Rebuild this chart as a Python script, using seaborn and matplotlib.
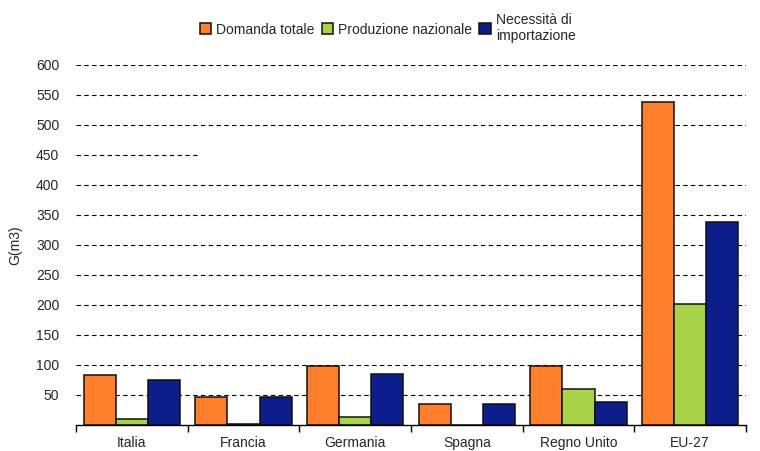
import pandas as pd
import matplotlib.pyplot as plt
import seaborn as sns

paesi = ["Italia", "Francia", "Germania", "Spagna", "Regno Unito", "EU-27"]
domanda_totale = [84, 47, 98, 35, 99, 538]
produzione_nazionale = [9.5, 1.5, 13, 0.5, 60.5, 202]
necessita_importazione = [75.5, 46, 85.5, 35, 39, 338]

serie = ["Domanda totale", "Produzione nazionale", "Necessità di\nimportazione"]
colori = ["#FF7F2A", "#A8D346", "#0C1E8C"]
tick_y = list(range(50, 601, 50))

df = pd.DataFrame({
    "Paese": paesi * 3,
    "Serie": [serie[0]] * 6 + [serie[1]] * 6 + [serie[2]] * 6,
    "Valore": domanda_totale + produzione_nazionale + necessita_importazione,
})

sns.set_style("white")
plt.rcParams["font.family"] = ["Liberation Sans", "DejaVu Sans"]

fig = plt.figure(figsize=(7.6, 4.51), dpi=100)
ax = fig.add_axes([76 / 760, 26 / 451, 670 / 760, 360 / 451])

# griglia tratteggiata dietro le barre
for v in tick_y:
    xmax = 124 / 670 if v == 450 else 1
    ax.axhline(v, xmin=0, xmax=xmax, color="black", lw=0.8,
               ls=(0, (4, 3)), zorder=0)

sns.barplot(data=df, x="Paese", y="Valore", hue="Serie", palette=colori,
            saturation=1, width=0.86, gap=0, edgecolor="#111111",
            linewidth=1.1, ax=ax, zorder=2)

ax.set_ylim(0, 600)
ax.set_xlim(-0.5, 5.5)
ax.set_yticks(tick_y)
ax.set_yticklabels([str(v) for v in tick_y], fontsize=10)
ax.tick_params(axis="y", length=0, pad=12)
ax.set_xticks(range(len(paesi)))
ax.set_xticklabels(paesi, fontsize=10)
ax.set_xticks([i - 0.5 for i in range(len(paesi) + 1)], minor=True)
ax.tick_params(axis="x", which="major", length=0, pad=8)
ax.tick_params(axis="x", which="minor", length=5, width=1, color="black",
               bottom=True, direction="out")
ax.set_xlabel("")
ax.set_ylabel("G(m3)", fontsize=10, labelpad=10)

for lato in ["top", "right", "left"]:
    ax.spines[lato].set_visible(False)
ax.spines["bottom"].set_color("black")
ax.spines["bottom"].set_linewidth(1)

handles, labels = ax.get_legend_handles_labels()
ax.legend(handles, labels, loc="upper center", bbox_to_anchor=(0.465, 1.16),
          ncol=3, frameon=False, fontsize=10, handlelength=0.85,
          handleheight=0.85, handletextpad=0.35, columnspacing=0.5,
          borderaxespad=0)

plt.savefig("out.png", dpi=100)
